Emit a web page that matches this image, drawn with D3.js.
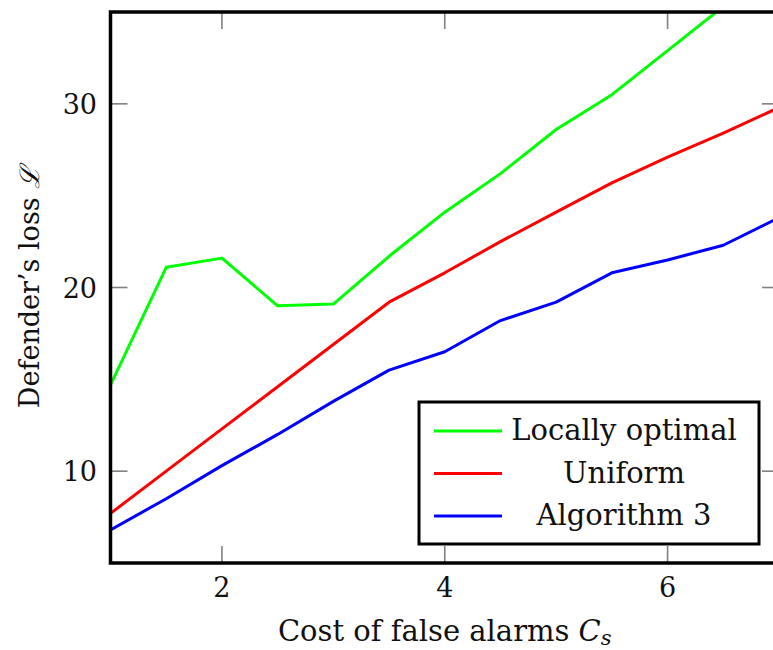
<!DOCTYPE html>
<html>
<head>
<meta charset="utf-8">
<script src="https://cdn.jsdelivr.net/npm/d3@7"></script>
<style>
body { margin: 0; background: #fff; }
svg { display: block; }
text { font-family: "DejaVu Serif", serif; fill: #111; }
</style>
</head>
<body>
<div id="chart"></div>
<script>
// cost of false alarms C_s
var costs = [1, 1.5, 2, 2.5, 3, 3.5, 4, 4.5, 5, 5.5, 6, 6.5, 7];
var locallyOptimal = [14.7, 21.1, 21.6, 19.0, 19.1, 21.7, 24.1, 26.2, 28.6, 30.5, 32.9, 35.3, 37.6];
var uniform = [7.7, 10.0, 12.3, 14.6, 16.9, 19.2, 20.8, 22.5, 24.1, 25.7, 27.1, 28.4, 29.8];
var algorithm3 = [6.8, 8.5, 10.3, 12.0, 13.8, 15.5, 16.5, 18.2, 19.2, 20.8, 21.5, 22.3, 23.8];
var xTicks = [2, 4, 6];
var yTicks = [10, 20, 30];

var series = [
  {name: "Locally optimal", color: "#00ff00", values: locallyOptimal},
  {name: "Uniform", color: "#ff0000", values: uniform},
  {name: "Algorithm 3", color: "#0000ff", values: algorithm3}
];

var W = 773, H = 650;
var margin = {top: 12, left: 110.5, right: -6, bottom: 87};
var width = W - margin.left - margin.right;
var height = H - margin.top - margin.bottom;

var svg = d3.select("#chart")
  .append("svg")
  .attr("width", W)
  .attr("height", H);

var x = d3.scaleLinear().domain([1, 7]).range([margin.left, margin.left + width]);
var y = d3.scaleLinear().domain([5, 35]).range([margin.top + height, margin.top]);

svg.append("clipPath").attr("id", "plotclip")
  .append("rect")
  .attr("x", margin.left).attr("y", margin.top)
  .attr("width", width).attr("height", height);

// tick marks, inside, on all four sides
var ticks = svg.append("g").attr("stroke", "#808080").attr("stroke-width", 1.6);
xTicks.forEach(function(t) {
  ticks.append("line").attr("x1", x(t)).attr("x2", x(t))
    .attr("y1", margin.top + height).attr("y2", margin.top + height - 17);
  ticks.append("line").attr("x1", x(t)).attr("x2", x(t))
    .attr("y1", margin.top).attr("y2", margin.top + 17);
});
yTicks.forEach(function(t) {
  ticks.append("line").attr("y1", y(t)).attr("y2", y(t))
    .attr("x1", margin.left).attr("x2", margin.left + 17);
  ticks.append("line").attr("y1", y(t)).attr("y2", y(t))
    .attr("x1", margin.left + width).attr("x2", margin.left + width - 17);
});

// lines
var line = d3.line()
  .x(function(d, i) { return x(costs[i]); })
  .y(function(d) { return y(d); });

svg.append("g").attr("clip-path", "url(#plotclip)")
  .selectAll("path")
  .data(series)
  .enter()
  .append("path")
  .attr("d", function(d) { return line(d.values); })
  .attr("fill", "none")
  .attr("stroke", function(d) { return d.color; })
  .attr("stroke-width", 3)
  .attr("stroke-linejoin", "round");

// frame
svg.append("rect")
  .attr("x", margin.left).attr("y", margin.top)
  .attr("width", width).attr("height", height)
  .attr("fill", "none").attr("stroke", "#000").attr("stroke-width", 3.5);

// tick labels
svg.append("g").selectAll("text")
  .data(xTicks).enter().append("text")
  .attr("x", function(d) { return x(d); })
  .attr("y", 597)
  .attr("text-anchor", "middle")
  .style("font-size", "27px")
  .text(function(d) { return d; });

svg.append("g").selectAll("text")
  .data(yTicks).enter().append("text")
  .attr("x", 97)
  .attr("y", function(d) { return y(d) + 10; })
  .attr("text-anchor", "end")
  .style("font-size", "27px")
  .text(function(d) { return d; });

// axis labels
var xl = svg.append("text")
  .attr("x", (margin.left + margin.left + width) / 2)
  .attr("y", 641)
  .attr("text-anchor", "middle")
  .style("font-size", "29px");
xl.append("tspan").text("Cost of false alarms ");
xl.append("tspan").style("font-style", "italic").text("C");
xl.append("tspan").style("font-style", "italic").style("font-size", "21px").attr("dy", 4).text("s");

var yl = svg.append("text")
  .attr("transform", "translate(39," + (margin.top + height / 2) + ") rotate(-90)")
  .attr("text-anchor", "middle")
  .style("font-size", "27px");
yl.append("tspan").text("Defender\u2019s loss ");
yl.append("tspan").style("font-style", "italic").text("\u2112");

// legend
var legend = svg.append("g");
legend.append("rect")
  .attr("x", 419).attr("y", 402)
  .attr("width", 340).attr("height", 142)
  .attr("fill", "#fff").attr("stroke", "#000").attr("stroke-width", 3);

var items = legend.selectAll("g.item")
  .data(series).enter().append("g")
  .attr("class", "item")
  .attr("transform", function(d, i) { return "translate(0," + (431 + i * 42.5) + ")"; });
items.append("line")
  .attr("x1", 434).attr("x2", 502)
  .attr("stroke", function(d) { return d.color; })
  .attr("stroke-width", 3);
items.append("text")
  .attr("x", 624).attr("y", 9)
  .attr("text-anchor", "middle")
  .style("font-size", "29px")
  .text(function(d) { return d.name; });
</script>
</body>
</html>
